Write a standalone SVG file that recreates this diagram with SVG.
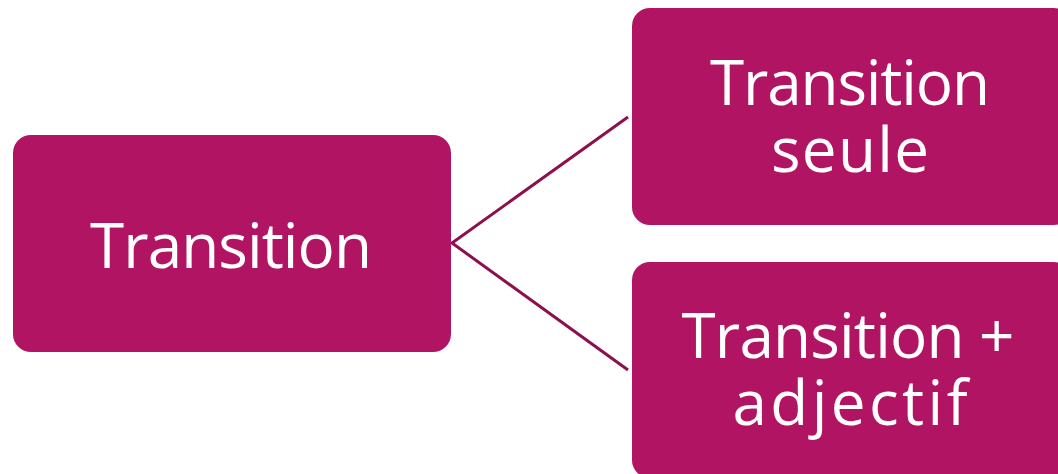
<svg xmlns="http://www.w3.org/2000/svg" width="1058" height="474" viewBox="0 0 1058 474">
<style>
.box{fill:#B01462;}
.t{font-family:"Open Sans","DejaVu Sans",sans-serif;font-size:62px;fill:#FFFFFF;text-anchor:middle;}
.c{stroke:#8C0F4E;stroke-width:3;fill:none;}
</style>
<rect width="1058" height="474" fill="#FFFFFF"/>
<g id="connectors">
<path class="c" d="M628,117 L452,243 L628,370"/>
</g>
<g id="node-transition">
<rect class="box" x="13" y="135" width="438" height="217" rx="18"/>
<text class="t" x="231" y="268" textLength="282">Transition</text>
</g>
<g id="node-seule">
<rect class="box" x="632" y="8" width="440" height="217" rx="18"/>
<text class="t" x="850" y="105" textLength="280">Transition</text>
<text class="t" x="850" y="172" textLength="158">seule</text>
</g>
<g id="node-adjectif">
<rect class="box" x="632" y="262" width="440" height="216" rx="18"/>
<text class="t" x="848" y="358" textLength="333">Transition +</text>
<text class="t" x="850" y="425" textLength="235">adjectif</text>
</g>
</svg>
